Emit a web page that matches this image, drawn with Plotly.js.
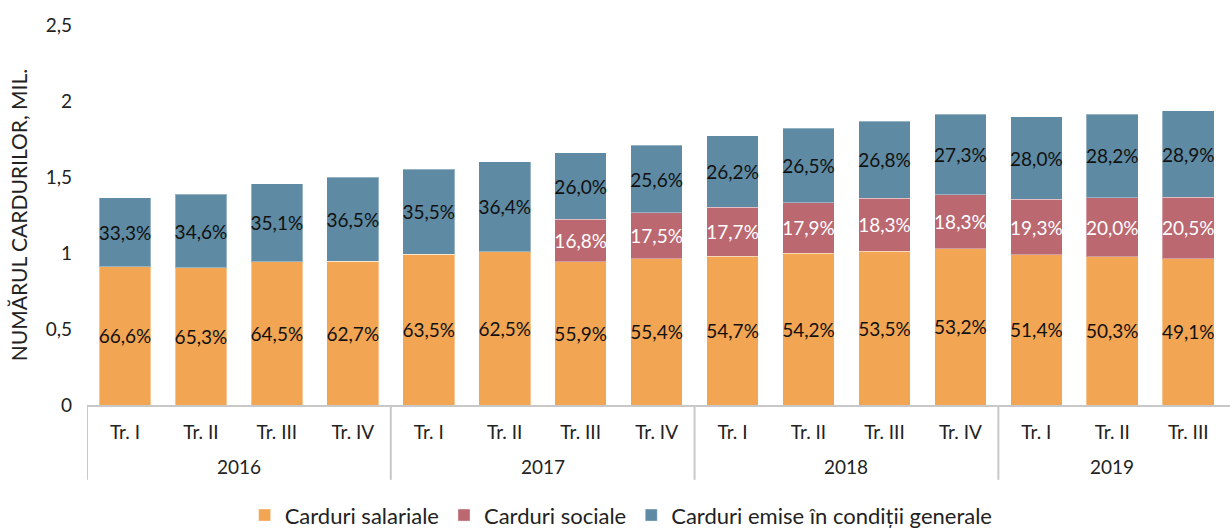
<!DOCTYPE html>
<html>
<head>
<meta charset="utf-8">
<script src="https://cdn.plot.ly/plotly-3.0.1.min.js"></script>
<style>
  html, body { margin: 0; padding: 0; background: #fff; }
  #grafic { width: 1230px; height: 529px; }
</style>
</head>
<body>
<div id="grafic"></div>
<script>
const ani = ["2016", "2016", "2016", "2016", "2017", "2017", "2017", "2017",
             "2018", "2018", "2018", "2018", "2019", "2019", "2019"];
const trimestre = ["Tr. I", "Tr. II", "Tr. III", "Tr. IV", "Tr. I", "Tr. II", "Tr. III", "Tr. IV",
                   "Tr. I", "Tr. II", "Tr. III", "Tr. IV", "Tr. I", "Tr. II", "Tr. III"];

// numarul cardurilor, mil.
const salariale = [0.910, 0.903, 0.941, 0.947, 0.993, 1.007, 0.941, 0.961,
                   0.980, 1.000, 1.013, 1.028, 0.987, 0.974, 0.963];
const sociale = [0, 0, 0, 0, 0, 0, 0.281, 0.304,
                 0.320, 0.331, 0.347, 0.354, 0.368, 0.390, 0.403];
const generale = [0.454, 0.483, 0.513, 0.551, 0.557, 0.592, 0.436, 0.443,
                  0.470, 0.491, 0.508, 0.532, 0.540, 0.550, 0.570];

// ponderi afisate pe bare
const etSalariale = ["66,6%", "65,3%", "64,5%", "62,7%", "63,5%", "62,5%", "55,9%", "55,4%",
                     "54,7%", "54,2%", "53,5%", "53,2%", "51,4%", "50,3%", "49,1%"];
const etSociale = ["", "", "", "", "", "", "16,8%", "17,5%",
                   "17,7%", "17,9%", "18,3%", "18,3%", "19,3%", "20,0%", "20,5%"];
const etGenerale = ["33,3%", "34,6%", "35,1%", "36,5%", "35,5%", "36,4%", "26,0%", "25,6%",
                    "26,2%", "26,5%", "26,8%", "27,3%", "28,0%", "28,2%", "28,9%"];

const font = "Lato, 'Open Sans', sans-serif";
const gri = "#c8c8c8";
const idx = trimestre.map((_, i) => i);

function serie(nume, valori, etichete, culoare, culoareText) {
  return {
    type: "bar",
    name: nume,
    x: idx,
    y: valori,
    text: etichete,
    textposition: "inside",
    insidetextanchor: "middle",
    textangle: 0,
    constraintext: "none",
    textfont: { family: font, size: 19, color: culoareText },
    marker: { color: culoare, line: { color: "rgba(255,255,255,0.35)", width: 1 } },
    hoverinfo: "y+name"
  };
}

const date = [
  serie("Carduri salariale", salariale, etSalariale, "#f2a553", "#111"),
  serie("Carduri sociale", sociale, etSociale, "#bc6870", "#fff"),
  serie("Carduri emise în condiții generale", generale, etGenerale, "#5e8aa3", "#111")
];

// anii sub trimestre + separatoare intre ani
const annotations = [];
const shapes = [];
let start = 0;
for (let i = 1; i <= ani.length; i++) {
  if (i === ani.length || ani[i] !== ani[start]) {
    annotations.push({
      xref: "x", yref: "paper",
      x: (start + i - 1) / 2, y: -0.163,
      yanchor: "middle",
      text: ani[start],
      showarrow: false,
      font: { family: font, size: 19, color: "#222" }
    });
    shapes.push({
      type: "line", xref: "x", yref: "paper",
      x0: start - 0.5, x1: start - 0.5, y0: 0, y1: -0.197,
      line: { color: gri, width: 2 }
    });
    start = i;
  }
}

const layout = {
  width: 1230,
  height: 529,
  margin: { l: 87, r: 0, t: 25, b: 124 },
  barmode: "stack",
  bargap: 0.32,
  separators: ", ",
  paper_bgcolor: "#fff",
  plot_bgcolor: "#fff",
  font: { family: font, size: 19, color: "#222" },
  xaxis: {
    range: [-0.5, 14.55],
    tickvals: idx,
    ticktext: trimestre,
    showgrid: false,
    zeroline: false,
    showline: true,
    linecolor: gri,
    linewidth: 2,
    ticks: "",
    ticklabelstandoff: 9,
    tickfont: { family: font, size: 19, color: "#222" }
  },
  yaxis: {
    range: [0, 2.5],
    dtick: 0.5,
    showgrid: false,
    zeroline: false,
    showline: false,
    ticks: "",
    ticklabelstandoff: 14,
    tickfont: { family: font, size: 19, color: "#222" },
    title: { text: "NUMĂRUL CARDURILOR, MIL.", font: { family: font, size: 21, color: "#222" }, standoff: 12 }
  },
  legend: {
    orientation: "h",
    xref: "container",
    yref: "container",
    x: 0.505,
    xanchor: "center",
    y: 0.026,
    yanchor: "middle",
    traceorder: "normal",
    font: { family: font, size: 22, color: "#222" },
    itemwidth: 20
  },
  annotations: annotations,
  shapes: shapes,
  showlegend: true
};

Plotly.newPlot("grafic", date, layout, { displayModeBar: false, staticPlot: true });
</script>
</body>
</html>
